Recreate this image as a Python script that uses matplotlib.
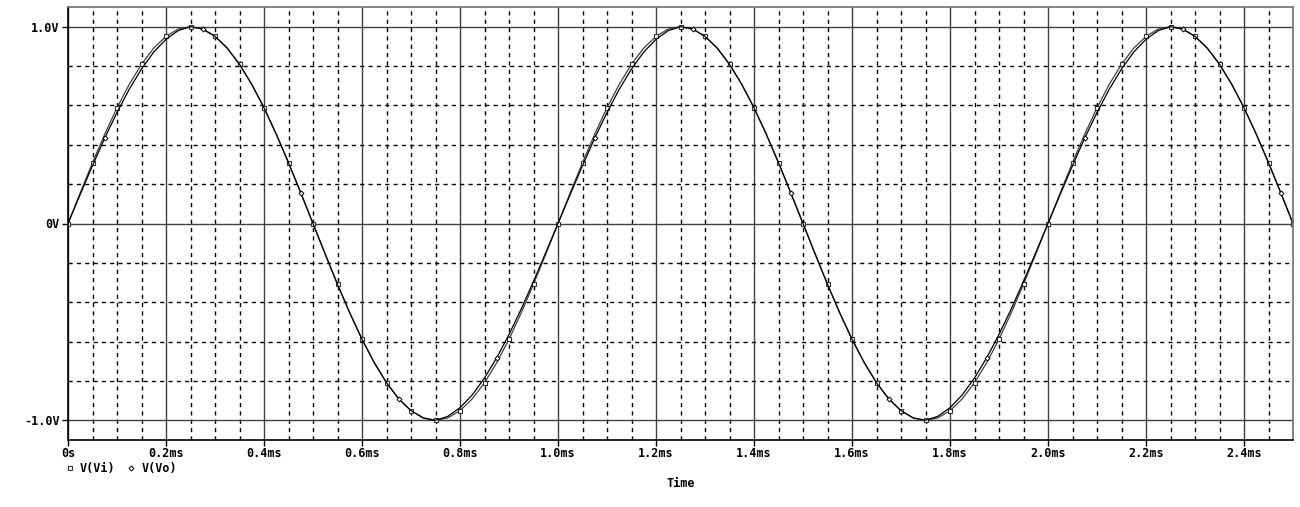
import matplotlib
import numpy as np

matplotlib.use("Agg")
import matplotlib.pyplot as plt
from matplotlib.lines import Line2D
from matplotlib.ticker import FixedLocator, MultipleLocator

# transient samples, 0.025 ms apart
time_step_ms = 0.025
v_vi = [
    0.000, 0.156, 0.309, 0.454, 0.588, 0.707, 0.809, 0.891, 0.951, 0.988,
    1.000, 0.988, 0.951, 0.891, 0.809, 0.707, 0.588, 0.454, 0.309, 0.156,
    0.000, -0.156, -0.309, -0.454, -0.588, -0.707, -0.809, -0.891, -0.951, -0.988,
    -1.000, -0.988, -0.951, -0.891, -0.809, -0.707, -0.588, -0.454, -0.309, -0.156,
    0.000, 0.156, 0.309, 0.454, 0.588, 0.707, 0.809, 0.891, 0.951, 0.988,
    1.000, 0.988, 0.951, 0.891, 0.809, 0.707, 0.588, 0.454, 0.309, 0.156,
    0.000, -0.156, -0.309, -0.454, -0.588, -0.707, -0.809, -0.891, -0.951, -0.988,
    -1.000, -0.988, -0.951, -0.891, -0.809, -0.707, -0.588, -0.454, -0.309, -0.156,
    0.000, 0.156, 0.309, 0.454, 0.588, 0.707, 0.809, 0.891, 0.951, 0.988,
    1.000, 0.988, 0.951, 0.891, 0.809, 0.707, 0.588, 0.454, 0.309, 0.156,
    0.000,
]
# output sits a hair off the input on the rising edges
v_vo = [
    0.000, 0.148, 0.294, 0.434, 0.564, 0.682, 0.785, 0.871, 0.936, 0.980,
    1.000, 0.988, 0.951, 0.891, 0.809, 0.707, 0.588, 0.454, 0.309, 0.156,
    0.000, -0.156, -0.309, -0.454, -0.588, -0.707, -0.809, -0.891, -0.951, -0.988,
    -1.000, -0.980, -0.936, -0.871, -0.785, -0.682, -0.564, -0.434, -0.294, -0.148,
    0.000, 0.148, 0.294, 0.434, 0.564, 0.682, 0.785, 0.871, 0.936, 0.980,
    1.000, 0.988, 0.951, 0.891, 0.809, 0.707, 0.588, 0.454, 0.309, 0.156,
    0.000, -0.156, -0.309, -0.454, -0.588, -0.707, -0.809, -0.891, -0.951, -0.988,
    -1.000, -0.980, -0.936, -0.871, -0.785, -0.682, -0.564, -0.434, -0.294, -0.148,
    0.000, 0.148, 0.294, 0.434, 0.564, 0.682, 0.785, 0.871, 0.936, 0.980,
    1.000, 0.988, 0.951, 0.891, 0.809, 0.707, 0.588, 0.454, 0.309, 0.156,
    0.000,
]
x_ticks = [0.0, 0.2, 0.4, 0.6, 0.8, 1.0, 1.2, 1.4, 1.6, 1.8, 2.0, 2.2, 2.4]
x_labels = ["0s", "0.2ms", "0.4ms", "0.6ms", "0.8ms", "1.0ms", "1.2ms",
            "1.4ms", "1.6ms", "1.8ms", "2.0ms", "2.2ms", "2.4ms"]
y_ticks = [-1.0, 0.0, 1.0]
y_labels = ["-1.0V", "0V", "1.0V"]

t = np.arange(len(v_vi)) * time_step_ms

font = dict(family="DejaVu Sans Mono", weight="bold", size=8.5)

fig = plt.figure(figsize=(13, 5.07), dpi=100)
ax = fig.add_axes([68 / 1300, 1 - 440 / 507, 1225 / 1300, 433 / 507])

ax.set_xlim(0, 2.5)
ax.set_ylim(-1.1, 1.1)

ax.xaxis.set_major_locator(FixedLocator(x_ticks))
ax.xaxis.set_minor_locator(MultipleLocator(0.05))
ax.yaxis.set_major_locator(FixedLocator(y_ticks))
ax.yaxis.set_minor_locator(MultipleLocator(0.2))
ax.set_xticklabels(x_labels, fontdict=font)
ax.set_yticklabels(y_labels, fontdict=font)
ax.tick_params(which="major", direction="out", length=4, width=1, color="black")
ax.tick_params(axis="x", which="major", pad=1)
ax.tick_params(axis="y", which="major", pad=2)
ax.tick_params(which="minor", length=0)

ax.grid(which="major", color="#404040", lw=1, ls="-")
ax.grid(which="minor", color="black", lw=1, ls=(0, (3, 3)))
ax.set_axisbelow(True)

for side in ["left", "bottom"]:
    ax.spines[side].set_color("black")
    ax.spines[side].set_linewidth(1.2)
for side in ["top", "right"]:
    ax.spines[side].set_color("#707070")
    ax.spines[side].set_linewidth(1.2)

ax.plot(t, v_vi, color="#404040", lw=0.9, marker="s", ms=3.5, mfc="white",
        mec="#303030", mew=0.8, markevery=(0, 2))
ax.plot(t, v_vo, color="black", lw=0.9, marker="D", ms=2.5, mfc="white",
        mec="black", mew=0.7, markevery=(3, 8))

ax.set_xlabel("Time", fontdict=font, labelpad=12)

# marker-only legend, like the probe trace list under the axis
handles = [
    Line2D([], [], ls="none", marker="s", ms=3.5, mfc="white", mec="#303030", mew=0.8),
    Line2D([], [], ls="none", marker="D", ms=2.5, mfc="white", mec="black", mew=0.7),
]
fig.legend(handles, ["V(Vi)", "V(Vo)"], loc="upper left",
           bbox_to_anchor=(66 / 1300, 1 - 462 / 507),
           ncol=2, frameon=False, handlelength=0.6, handletextpad=0.6,
           columnspacing=1.0, borderpad=0, borderaxespad=0,
           prop=dict(family="DejaVu Sans Mono", weight="bold", size=8.5))

fig.savefig("out.png", dpi=100)
